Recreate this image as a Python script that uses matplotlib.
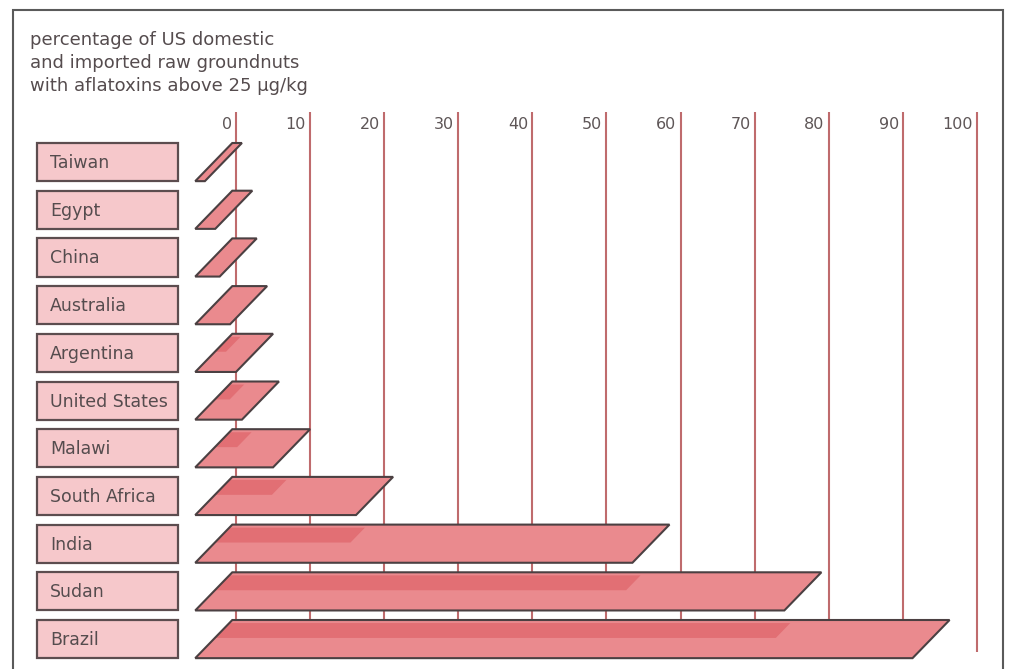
import numpy as np
import matplotlib.pyplot as plt
from matplotlib.patches import Polygon, Rectangle

countries = ['Taiwan', 'Egypt', 'China', 'Australia', 'Argentina',
             'United States', 'Malawi', 'South Africa', 'India', 'Sudan', 'Brazil']
# percentage of samples above 25 ug/kg (bar length along the back edge)
pct = [1.3, 2.7, 3.3, 4.7, 5.5, 6.3, 10.5, 21.7, 59.0, 79.5, 96.8]
# darker inner band drawn across the top of each bar
band = [0, 0, 0, 0, 1.5, 2.0, 3.0, 7.7, 18.3, 55.5, 75.7]
ticks = [0, 10, 20, 30, 40, 50, 60, 70, 80, 90, 100]
title_lines = ['percentage of US domestic',
               'and imported raw groundnuts',
               'with aflatoxins above 25 \u00b5g/kg']

W, H = 1010, 669
fig = plt.figure(figsize=(W / 100, H / 100), dpi=100)
fig.patch.set_facecolor('white')

# one axes over the whole figure: x in percent, y in row units (row 0 at top)
px_per_unit = 7.41
x_zero = 236
row0, pitch = 143, 47.7
ax = fig.add_axes([0, 0, 1, 1])
ax.set_xlim(-x_zero / px_per_unit, (W - x_zero) / px_per_unit)
ax.set_ylim((H - row0) / pitch, -row0 / pitch)
ax.axis('off')

bar_h = 0.80      # bar depth in row units
slant = 5.0       # horizontal shift of the front edge (percent units)
x0 = -0.5

bar_fc = '#ea8a8e'
band_fc = '#e26f74'
edge = '#4b4042'
grid_c = '#bf6b6d'
text_c = '#554c4e'

# gridlines with their labels
for t in ticks:
    ax.vlines(t, -0.65, 10.67, color=grid_c, lw=1.5, zorder=1)
    ax.text(t - 0.55, -0.38, str(t), ha='right', va='center',
            fontsize=11.5, color='#5e5657', zorder=1)

for i, (name, v, b) in enumerate(zip(countries, pct, band)):
    top, bot = i, i + bar_h
    # label box
    bx0 = (37 - x_zero) / px_per_unit
    bx1 = (178 - x_zero) / px_per_unit
    ax.add_patch(Rectangle((bx0, top), bx1 - bx0, bar_h, facecolor='#f6c8cb',
                           edgecolor='#5c4d4f', lw=1.6, zorder=3))
    ax.text(bx0 + 1.8, top + bar_h / 2 + 0.02, name, ha='left', va='center',
            fontsize=12.5, color=text_c, zorder=4)

    # slanted bar
    verts = [(x0, top), (x0 + v, top), (x0 + v - slant, bot), (x0 - slant, bot)]
    ax.add_patch(Polygon(verts, closed=True, facecolor=bar_fc, edgecolor='none',
                         zorder=2))
    if b > 0:
        f0, f1 = 0.08, 0.47
        ya, yb = top + f0 * bar_h, top + f1 * bar_h
        sa, sb = slant * f0, slant * f1
        bverts = [(x0 - sa, ya), (x0 + b - sa, ya), (x0 + b - sb, yb), (x0 - sb, yb)]
        ax.add_patch(Polygon(bverts, closed=True, facecolor=band_fc,
                             edgecolor='none', zorder=2.1))
    ax.add_patch(Polygon(verts, closed=True, facecolor='none', edgecolor=edge,
                         lw=1.5, joinstyle='miter', zorder=2.2))

# title block
for k, line in enumerate(title_lines):
    fig.text(30 / W, 1 - (40 + 23 * k) / H, line, ha='left', va='center',
             fontsize=13, color=text_c)

# outer frame
fig.add_artist(Rectangle((13 / W, -0.02), (1003 - 13) / W, 1.02 - 10 / H,
                         transform=fig.transFigure, facecolor='none',
                         edgecolor='#5a5a5a', lw=1.5))

fig.savefig('out.png', dpi=100)
